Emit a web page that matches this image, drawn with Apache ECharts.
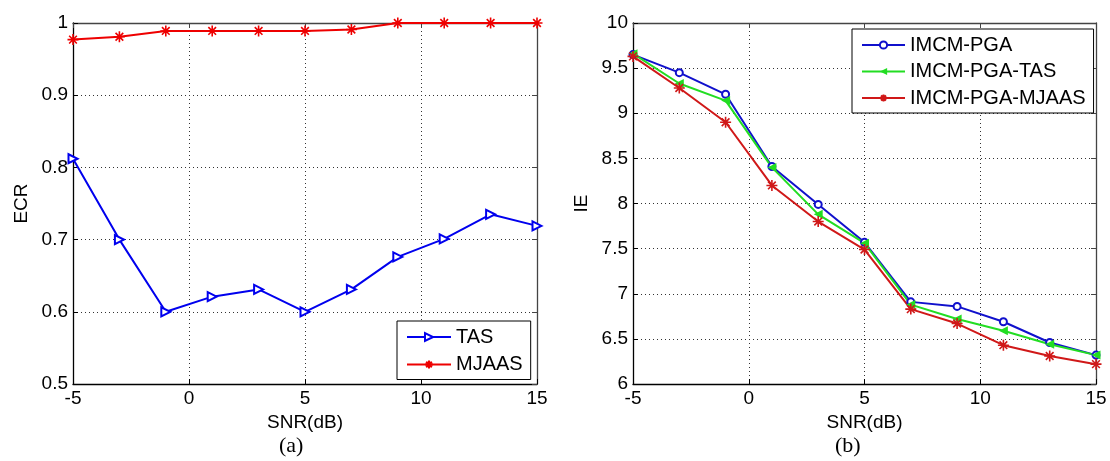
<!DOCTYPE html>
<html>
<head>
<meta charset="utf-8">
<script src="https://cdn.jsdelivr.net/npm/echarts@6/dist/echarts.min.js"></script>
<style>
  html, body { margin: 0; padding: 0; background: #fff; }
  #chart { width: 1110px; height: 461px; }
</style>
</head>
<body>
<div id="chart"></div>
<script>
// SNR values shared by both panels
const snr = [-5, -3, -1, 1, 3, 5, 7, 9, 11, 13, 15]

// panel (a): ECR
const ecrTAS = [0.812, 0.70, 0.60, 0.621, 0.631, 0.60, 0.631, 0.676, 0.701, 0.735, 0.719]
const ecrMJAAS = [0.977, 0.981, 0.989, 0.989, 0.989, 0.989, 0.991, 1.0, 1.0, 1.0, 1.0]

// panel (b): IE
const iePGA = [9.65, 9.45, 9.21, 8.41, 7.99, 7.57, 6.91, 6.86, 6.69, 6.46, 6.32]
const iePGATAS = [9.66, 9.33, 9.14, 8.40, 7.88, 7.56, 6.88, 6.72, 6.59, 6.44, 6.32]
const iePGAMJAAS = [9.63, 9.28, 8.90, 8.20, 7.80, 7.49, 6.83, 6.67, 6.43, 6.31, 6.22]

const pair = (ys) => snr.map((x, i) => [x, ys[i]])
const star = 'path://M0,-10L0,10M-10,0L10,0M-7,-7L7,7M-7,7L7,-7'
const font = 'Liberation Sans, Arial, sans-serif'
const serif = 'Liberation Serif, Times New Roman, serif'

const xAxisBase = (gridIndex) => ({
  type: 'value', gridIndex, min: -5, max: 15, interval: 5,
  axisLine: { show: true, onZero: false, lineStyle: { color: '#000', width: 1.3 } },
  axisTick: { inside: true, length: 5, lineStyle: { color: '#000' } },
  axisLabel: { color: '#000', fontSize: 19, fontFamily: font, margin: 5 },
  splitLine: { show: true, lineStyle: { color: '#333', type: [1, 3], width: 1 } },
  name: 'SNR(dB)', nameLocation: 'middle', nameGap: 29,
  nameTextStyle: { color: '#000', fontSize: 19, fontFamily: font },
})
const xMirror = (gridIndex) => ({
  type: 'value', gridIndex, min: -5, max: 15, interval: 5, position: 'top',
  axisLine: { show: true, onZero: false, lineStyle: { color: '#444', width: 1.3 } },
  axisTick: { inside: true, length: 5, lineStyle: { color: '#444' } },
  axisLabel: { show: false }, splitLine: { show: false },
})
const yAxisBase = (gridIndex, min, max, interval, name) => ({
  type: 'value', gridIndex, min, max, interval,
  axisLine: { show: true, onZero: false, lineStyle: { color: '#000', width: 1.3 } },
  axisTick: { inside: true, length: 5, lineStyle: { color: '#000' } },
  axisLabel: { color: '#000', fontSize: 19, fontFamily: font, margin: 5 },
  splitLine: { show: true, lineStyle: { color: '#333', type: [1, 3], width: 1 } },
  name, nameLocation: 'middle', nameGap: 42,
  nameTextStyle: { color: '#000', fontSize: 19, fontFamily: font },
})
const yMirror = (gridIndex, min, max, interval) => ({
  type: 'value', gridIndex, min, max, interval, position: 'right',
  axisLine: { show: true, onZero: false, lineStyle: { color: '#444', width: 1.3 } },
  axisTick: { inside: true, length: 5, lineStyle: { color: '#444' } },
  axisLabel: { show: false }, splitLine: { show: false },
})

const chart = echarts.init(document.getElementById('chart'))
chart.setOption({
  animation: false,
  backgroundColor: '#fff',
  grid: [
    { left: 73, top: 23, width: 464, height: 361 },
    { left: 633, top: 23, width: 463, height: 361 },
  ],
  xAxis: [xAxisBase(0), xMirror(0), xAxisBase(1), xMirror(1)],
  yAxis: [
    yAxisBase(0, 0.5, 1, 0.1, 'ECR'), yMirror(0, 0.5, 1, 0.1),
    yAxisBase(1, 6, 10, 0.5, 'IE'), yMirror(1, 6, 10, 0.5),
  ],
  legend: [
    {
      data: ['TAS', 'MJAAS'], orient: 'vertical', left: 397, top: 321,
      backgroundColor: '#fff', borderColor: '#000', borderWidth: 1, borderRadius: 0,
      padding: [6, 8, 5, 9], itemWidth: 44, itemHeight: 10, itemGap: 7.5,
      textStyle: { color: '#000', fontSize: 20, fontFamily: font },
    },
    {
      data: ['IMCM-PGA', 'IMCM-PGA-TAS', 'IMCM-PGA-MJAAS'], orient: 'vertical', left: 852, top: 29,
      backgroundColor: '#fff', borderColor: '#000', borderWidth: 1, borderRadius: 0,
      padding: [6, 8, 5, 9], itemWidth: 43, itemHeight: 9, itemGap: 6.5,
      textStyle: { color: '#000', fontSize: 20, fontFamily: font },
    },
  ],
  graphic: [
    { type: 'text', left: 279, top: 435, style: { text: '(a)', fontSize: 22, fontFamily: serif, fill: '#000' } },
    { type: 'text', left: 835, top: 435, style: { text: '(b)', fontSize: 22, fontFamily: serif, fill: '#000' } },
  ],
  series: [
    {
      name: 'TAS', type: 'line', xAxisIndex: 0, yAxisIndex: 0, data: pair(ecrTAS),
      symbol: 'emptyTriangle', symbolSize: 9, symbolRotate: -90,
      lineStyle: { color: '#0000ee', width: 2 }, itemStyle: { color: '#0000ee', borderWidth: 1.6 },
    },
    {
      name: 'MJAAS', type: 'line', xAxisIndex: 0, yAxisIndex: 0, data: pair(ecrMJAAS),
      symbol: star, symbolSize: 11,
      lineStyle: { color: '#ee0000', width: 2 }, itemStyle: { color: '#ee0000', borderColor: '#ee0000', borderWidth: 1.6 },
    },
    {
      name: 'IMCM-PGA', type: 'line', xAxisIndex: 2, yAxisIndex: 2, data: pair(iePGA),
      symbol: 'emptyCircle', symbolSize: 7,
      lineStyle: { color: '#1010cc', width: 2 }, itemStyle: { color: '#1010cc', borderWidth: 1.4 },
    },
    {
      name: 'IMCM-PGA-TAS', type: 'line', xAxisIndex: 2, yAxisIndex: 2, data: pair(iePGATAS),
      symbol: 'triangle', symbolSize: 9, symbolRotate: 90,
      lineStyle: { color: '#22dd22', width: 2 }, itemStyle: { color: '#22dd22' },
    },
    {
      name: 'IMCM-PGA-MJAAS', type: 'line', xAxisIndex: 2, yAxisIndex: 2, data: pair(iePGAMJAAS),
      symbol: star, symbolSize: 11,
      lineStyle: { color: '#d01818', width: 2 }, itemStyle: { color: '#d01818', borderColor: '#d01818', borderWidth: 1.6 },
    },
  ],
})
</script>
</body>
</html>
